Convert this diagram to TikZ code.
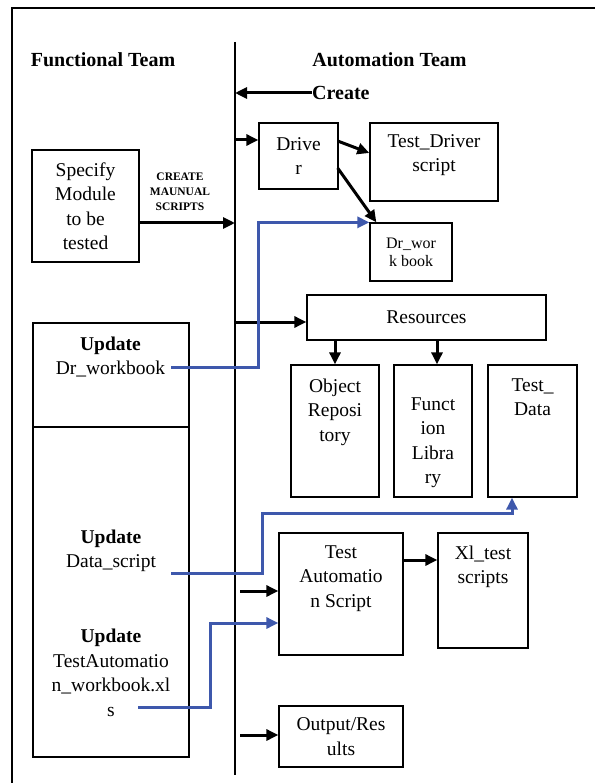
\documentclass[tikz,border=0pt]{standalone}
\usepackage{fontspec}
\setmainfont{Liberation Serif}
\usetikzlibrary{positioning,arrows.meta,calc}
\definecolor{lnk}{RGB}{62,88,172}

\begin{document}
\begin{tikzpicture}[x=1pt,y=-1pt,font=\fontsize{19.5}{24.5}\selectfont,
  >={Triangle[length=12pt,width=11pt]},
  box/.style={draw,line width=1.3pt,inner sep=0pt,align=center},
  hd/.style={font=\fontsize{20}{24}\selectfont\bfseries,inner sep=0pt},
  toptxt/.style={anchor=north,align=center,inner sep=0pt},
  arr/.style={->,line width=3pt},
  upd/.style={->,lnk,line width=3pt}]
  \useasboundingbox (0,0) rectangle (595,783);
  % frame and team divider
  \draw[line width=1.5pt] (12,783) -- (12,8) -- (595,8);
  \coordinate (dtop) at (235,42);
  \coordinate (dbot) at (235,775);
  \draw[line width=1.3pt] (dtop) -- (dbot);
  \node[hd] (ft) at (103,60) {Functional Team};
  \node[hd] (aut) at (389.5,60) {Automation Team};
  \node[hd,anchor=west] (crt) at (312,93) {Create};
  \draw[arr] (crt.west) -- (crt.west -| dtop);
  % functional side
  \node[box,minimum width=107pt,minimum height=112pt] (spec) at (85.5,206) {Specify\\Module\\to be\\tested};
  \node[font=\fontsize{11.5}{15}\selectfont\bfseries,align=center] (cms) at (180,192) {CREATE\\MAUNUAL\\SCRIPTS};
  \node[box,minimum width=156pt,minimum height=104pt] (upd1) at (111,375) {};
  \node[box,minimum width=156pt,minimum height=330pt] (upd2) at (111,592) {};
  \node[align=center] (udr) at (110.5,357) {\textbf{Update}\\Dr\_workbook};
  \node[align=center] (uds) at (111,551) {\textbf{Update}\\Data\_script};
  \node[align=center] (uta) at (111,673) {\textbf{Update}\\TestAutomatio\\n\_workbook.xl\\s};
  \coordinate (s1) at (171,367);
  \coordinate (s2) at (171,573);
  \coordinate (s3) at (138,707);
  % automation side
  \node[box,minimum width=79pt,minimum height=66pt] (drv) at (298.5,156) {Drive\\r};
  \node[box,minimum width=128pt,minimum height=78pt,label={[toptxt,yshift=-12pt]north:Test\_Driver\\script}] (tdrv) at (434,162) {};
  \node[box,minimum width=82pt,minimum height=58pt,font=\fontsize{16}{18}\selectfont] (drwb) at (411,252) {Dr\_wor\\k book};
  \node[box,minimum width=239pt,minimum height=45pt] (res) at (426.5,317.5) {Resources};
  \node[box,minimum width=88pt,minimum height=132pt,label={[toptxt,yshift=-14pt]north:Object\\Reposi\\tory}] (objr) at (335,431) {};
  \node[box,minimum width=78pt,minimum height=132pt,label={[toptxt,yshift=-33pt]north:Funct\\ion\\Libra\\ry}] (flib) at (433,431) {};
  \node[box,minimum width=89pt,minimum height=132pt,label={[toptxt,yshift=-14pt]north:Test\_\\Data}] (tdat) at (532.5,431) {};
  \node[box,minimum width=124pt,minimum height=122pt,label={[toptxt,yshift=-13pt]north:Test\\Automatio\\n Script}] (tas) at (341,594) {};
  \node[box,minimum width=90pt,minimum height=115pt,label={[toptxt,yshift=-13pt]north:Xl\_test\\scripts}] (xlt) at (483,590.5) {};
  \node[box,minimum width=124pt,minimum height=61pt] (out) at (341,736.5) {Output/Res\\ults};
  % black connectors
  \draw[arr] (spec.east |- 0,223) -- (dtop |- 0,223);
  \draw[arr] ($(dtop |- drv.west)+(0,-16)$) -- ($(drv.west)+(0,-16)$);
  \draw[arr] ($(drv.east)+(-1,-15)$) -- ($(tdrv.west)+(0,-9)$);
  \draw[arr] ($(drv.east)+(-1,12)$) -- ($(drwb.north west)+(7,0)$);
  \draw[arr] ($(dtop |- res.west)+(0,4.5)$) -- ($(res.west)+(0,4.5)$);
  \draw[arr] (objr.north |- res.south) -- (objr.north);
  \draw[arr] ($(flib.north |- res.south)+(4,0)$) -- ($(flib.north)+(4,0)$);
  \draw[arr] ($(dtop |- tas.west)+(5,-3)$) -- ($(tas.west)+(0,-3)$);
  \draw[arr] ($(tas.east)+(0,-34)$) -- ($(xlt.west)+(0,-30.5)$);
  \draw[arr] ($(dtop |- out.west)+(5,-1.5)$) -- ($(out.west)+(0,-1.5)$);
  % update links
  \draw[upd] (s1) -- ++(87,0) |- (drwb.north west);
  \draw[upd] (s2) -- ++(91,0) |- ($(tdat.south)+(-20.5,16)$) -- ($(tdat.south)+(-20.5,0)$);
  \draw[upd] (s3) -- ++(72,0) |- ($(tas.west)+(0,29)$);
\end{tikzpicture}
\end{document}
